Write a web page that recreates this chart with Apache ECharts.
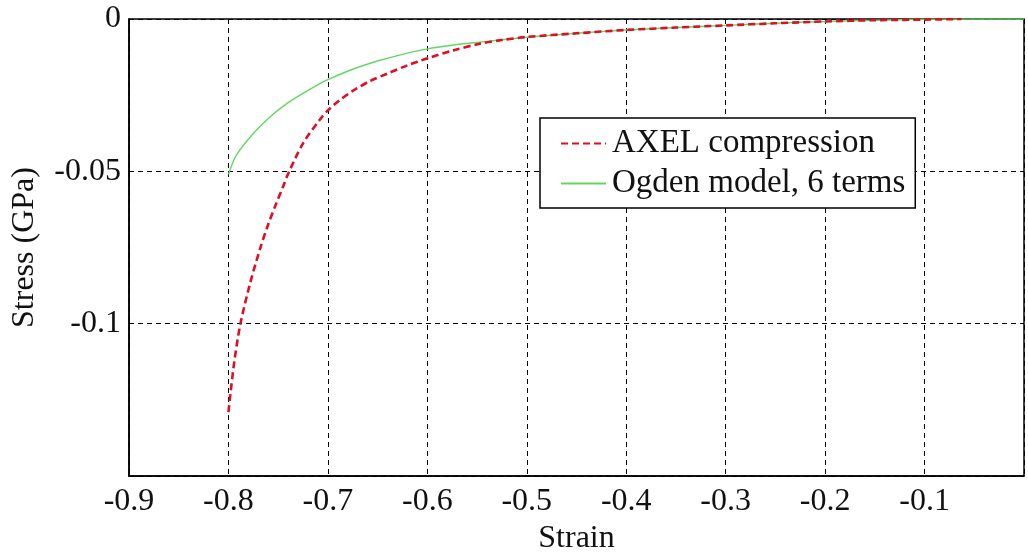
<!DOCTYPE html>
<html>
<head>
<meta charset="utf-8">
<script src="https://cdn.jsdelivr.net/npm/echarts@6/dist/echarts.min.js"></script>
<style>
  html, body { margin: 0; padding: 0; background: #fff; }
  #chart { width: 1028px; height: 556px; }
</style>
</head>
<body>
<div id="chart"></div>
<script>
// Measured compression curve: strain vs stress (GPa)
const axelStrain = [-0.800, -0.798, -0.794, -0.788, -0.778, -0.768, -0.760, -0.752, -0.745, -0.740,
  -0.725, -0.708, -0.700, -0.688, -0.675, -0.658, -0.640, -0.620, -0.607, -0.597,
  -0.575, -0.547, -0.525, -0.500, -0.450, -0.400, -0.350, -0.300, -0.250, -0.200,
  -0.150, -0.100, -0.063];
const axelStress = [-0.1290, -0.1230, -0.1122, -0.1001, -0.0865, -0.0752, -0.0674, -0.0606, -0.0550, -0.0508,
  -0.0408, -0.0330, -0.0300, -0.0266, -0.0236, -0.0204, -0.0179, -0.0152, -0.0137, -0.0126,
  -0.0104, -0.0081, -0.0069, -0.0059, -0.0047, -0.0036, -0.0028, -0.0021, -0.0014, -0.0008,
  -0.0004, -0.0002, 0.0000];

// Six-term Ogden hyperelastic fit
const ogdenStrain = [-0.800, -0.792, -0.775, -0.758, -0.741, -0.725, -0.708, -0.700, -0.675, -0.650,
  -0.625, -0.600, -0.575, -0.550, -0.525, -0.500, -0.450, -0.400, -0.350, -0.300,
  -0.250, -0.200, -0.150, -0.100, -0.050, 0.000];
const ogdenStress = [-0.0510, -0.0447, -0.0376, -0.0321, -0.0277, -0.0244, -0.0212, -0.0199, -0.0165, -0.0138,
  -0.0116, -0.0098, -0.0086, -0.0077, -0.0068, -0.0060, -0.0047, -0.0036, -0.0028, -0.0021,
  -0.0014, -0.0008, -0.0004, -0.0001, 0.0000, 0.0000];

const seriesNames = ['AXEL compression', 'Ogden model, 6 terms'];
const xAxisTitle = 'Strain';
const yAxisTitle = 'Stress (GPa)';

const pair = (xs, ys) => xs.map((x, i) => [x, ys[i]]);
const fmt = v => String(+v.toFixed(3));

const FONT = '"Liberation Serif", "Times New Roman", serif';
const TEXT = '#111';

const chart = echarts.init(document.getElementById('chart'), null, { renderer: 'canvas' });

const gridLine = { show: true, lineStyle: { color: '#000', width: 1, type: [5, 4] } };

chart.setOption({
  animation: false,
  backgroundColor: '#fff',
  grid: {
    left: 129, right: 4, top: 19, bottom: 80,
    outerBoundsMode: 'none',
    show: true, borderColor: '#000', borderWidth: 1.5, backgroundColor: 'transparent'
  },
  legend: {
    data: seriesNames,
    orient: 'vertical',
    left: 540, top: 118,
    backgroundColor: '#fff',
    borderColor: '#000', borderWidth: 1.5,
    padding: [9, 10, 8, 20],
    itemWidth: 45, itemHeight: 14, itemGap: 7,
    itemStyle: { opacity: 0 },
    textStyle: { fontFamily: FONT, fontSize: 33, color: TEXT, padding: [0, 0, 0, 1] }
  },
  xAxis: {
    type: 'value', min: -0.9, max: 0, interval: 0.1,
    name: xAxisTitle, nameLocation: 'middle', nameGap: 44,
    nameTextStyle: { fontFamily: FONT, fontSize: 32, color: TEXT },
    axisLine: { show: true, onZero: false, lineStyle: { color: '#000', width: 1.5 } },
    axisTick: { show: false },
    axisLabel: {
      margin: 10, fontFamily: FONT, fontSize: 32, color: TEXT,
      formatter: v => (Math.abs(v) < 1e-9 ? '' : fmt(v))
    },
    splitLine: gridLine
  },
  yAxis: {
    type: 'value', min: -0.15, max: 0, interval: 0.05,
    name: yAxisTitle, nameLocation: 'middle', nameGap: 88, nameRotate: 90,
    nameTextStyle: { fontFamily: FONT, fontSize: 32, color: TEXT },
    axisLine: { show: true, onZero: false, lineStyle: { color: '#000', width: 1.5 } },
    axisTick: { show: false },
    axisLabel: {
      margin: 8, fontFamily: FONT, fontSize: 32, color: TEXT,
      formatter: v => (v < -0.149 ? '' : fmt(v))
    },
    splitLine: gridLine
  },
  series: [
    {
      name: seriesNames[0], type: 'line', data: pair(axelStrain, axelStress),
      symbol: 'none', smooth: 0.3, z: 3,
      lineStyle: { color: '#dd0f24', width: 2.6, type: [7, 4] },
      itemStyle: { color: '#dd0f24' }
    },
    {
      name: seriesNames[1], type: 'line', data: pair(ogdenStrain, ogdenStress),
      symbol: 'none', smooth: 0.3, z: 2,
      lineStyle: { color: '#62d862', width: 1.4 },
      itemStyle: { color: '#62d862' }
    }
  ]
});
</script>
</body>
</html>
